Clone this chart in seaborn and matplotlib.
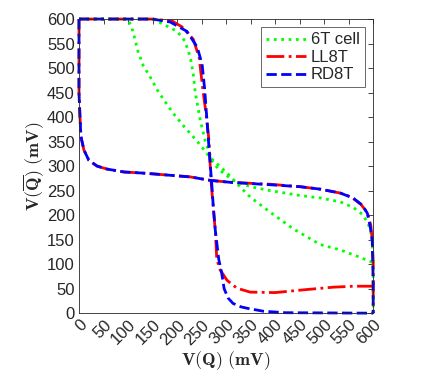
import numpy as np
import pandas as pd
import seaborn as sns
from matplotlib import pyplot as plt

# 6T cell (green dotted)
t6_a_x = [0, 60, 98, 106, 112, 120, 131, 145, 160, 175, 192, 215, 240, 267, 302, 329, 349, 390, 437, 492, 533, 573, 598, 600]
t6_a_y = [600, 600, 600, 588, 567, 535, 505, 482, 455, 432, 408, 380, 352, 318, 286, 257, 237, 206, 172, 140, 129, 114, 104, 100]
t6_b_x = [0, 150, 171, 200, 216, 227, 233, 237, 247, 257, 265, 272, 285, 300, 314, 350, 390, 451, 492, 533, 559, 580, 594, 598, 600, 600]
t6_b_y = [600, 600, 590, 575, 555, 522, 488, 451, 395, 353, 330, 310, 293, 282, 271, 258, 250, 240, 235, 227, 216, 200, 173, 145, 100, 0]

# LL8T (red dash-dot)
ll_a_x = [0, 150, 190, 210, 233, 245, 253, 260, 265, 269, 276, 278, 281, 288, 302, 322, 349, 400, 451, 518, 560, 600]
ll_a_y = [600, 600, 596, 584, 559, 522, 453, 400, 353, 273, 190, 169, 110, 88, 67, 51, 43, 42, 47, 53, 55, 55]
ll_b_x = [0, 0, 2, 4, 10, 20, 37, 57, 92, 127, 153, 227, 267, 308, 390, 451, 492, 533, 555, 575, 588, 595, 598, 600, 600]
ll_b_y = [600, 450, 400, 360, 333, 312, 300, 294, 288, 286, 284, 278, 271, 267, 263, 258, 253, 245, 237, 222, 205, 180, 150, 100, 0]

# RD8T (blue dashed)
rd_a_x = [0, 150, 186, 220, 241, 251, 256, 262, 267, 271, 274, 278, 285, 291, 296, 304, 314, 330, 343, 376, 420, 600]
rd_a_y = [600, 600, 594, 575, 543, 508, 460, 380, 312, 260, 216, 169, 110, 82, 50, 31, 20, 13, 10, 4, 1, 0]
rd_b_x = [0, 0, 2, 4, 10, 20, 37, 57, 92, 127, 153, 227, 267, 308, 390, 451, 492, 533, 559, 578, 588, 594, 598, 599, 600, 600]
rd_b_y = [600, 450, 400, 360, 333, 312, 300, 294, 288, 286, 284, 278, 271, 267, 262, 258, 253, 245, 235, 220, 204, 176, 149, 114, 60, 0]

ticks = list(range(0, 601, 50))

sns.set_style('white')
plt.rcParams['font.family'] = ['Liberation Sans', 'DejaVu Sans']
plt.rcParams['mathtext.fontset'] = 'cm'

fig = plt.figure(figsize=(4.27, 3.81), dpi=100)
ax = fig.add_axes([0.185, 0.178, 0.689, 0.772])

curves = [
    (t6_a_x, t6_a_y, (0, 1, 0), ':', '6T cell'),
    (t6_b_x, t6_b_y, (0, 1, 0), ':', None),
    (ll_a_x, ll_a_y, (1, 0, 0), '-.', 'LL8T'),
    (ll_b_x, ll_b_y, (1, 0, 0), '-.', None),
    (rd_a_x, rd_a_y, (0, 0, 1), '--', 'RD8T'),
    (rd_b_x, rd_b_y, (0, 0, 1), '--', None),
]
for xs, ys, c, ls, lab in curves:
    sns.lineplot(x=xs, y=ys, sort=False, estimator=None, color=c, linestyle=ls,
                 lw=2, label=lab, ax=ax, clip_on=False)

ax.set_xlim(0, 600)
ax.set_ylim(0, 600)
ax.set_xticks(ticks)
ax.set_yticks(ticks)
ax.set_xticklabels([str(t) for t in ticks], rotation=45, ha='right', va='top',
                   rotation_mode='anchor')
ax.tick_params(direction='in', top=True, right=True, length=3.5, width=0.6,
               labelsize=12, colors='#262626', pad=3)
for s in ax.spines.values():
    s.set_color('#262626')
    s.set_linewidth(0.6)

ax.set_xlabel(r'$\mathbf{V(Q)\ (mV)}$', fontsize=13, labelpad=1)
ax.set_ylabel(r'$\mathbf{V(\overline{Q})\ (mV)}$', fontsize=13, labelpad=0)

leg = ax.legend(loc='upper right', fontsize=12, frameon=True, fancybox=False,
                edgecolor='#262626', borderaxespad=0.5, handlelength=2.4,
                handletextpad=0.3, borderpad=0.3, labelspacing=0.15)
leg.get_frame().set_linewidth(0.6)

fig.savefig('out.png', dpi=100)
